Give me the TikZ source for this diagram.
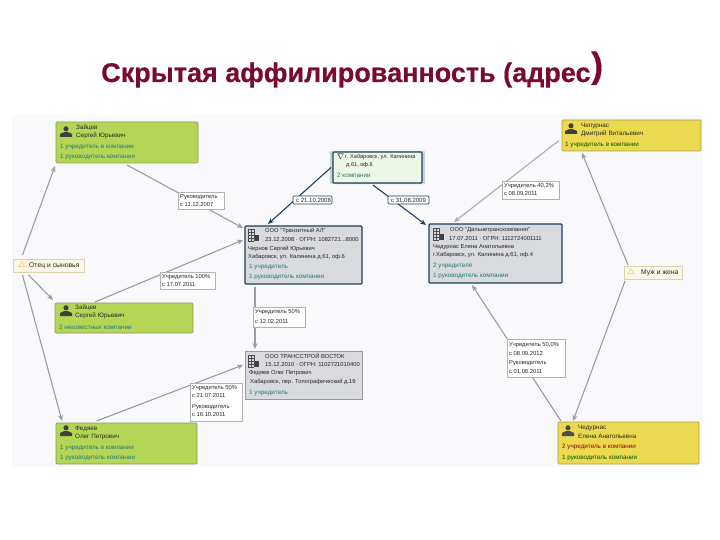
\documentclass[tikz,border=0pt]{standalone}
\usepackage{fontspec}
\setmainfont{Liberation Sans}
\newfontfamily\titlefont{Liberation Sans}[BoldFeatures={FakeBold=0.5}]
\usetikzlibrary{arrows.meta,shadows,calc}
\definecolor{panelbg}{HTML}{F9F9FB}
\definecolor{greenbox}{HTML}{B5D556}
\definecolor{greenedge}{HTML}{8A9A55}
\definecolor{yellowbox}{HTML}{EBD94F}
\definecolor{yellowedge}{HTML}{A89C50}
\definecolor{greybox}{HTML}{D9DADD}
\definecolor{darkblue}{HTML}{1F3F5F}
\definecolor{addrbox}{HTML}{EEF6E6}
\definecolor{linktxt}{HTML}{1F7A7A}
\definecolor{arrowgrey}{HTML}{9A9CA4}
\definecolor{relbg}{HTML}{FBF6E6}
\definecolor{reledge}{HTML}{DDD3B0}
\definecolor{titlecol}{HTML}{7A0A30}
\tikzset{
  boxbase/.style={rectangle,anchor=north west,inner sep=0pt,outer sep=0pt},
  greenn/.style={boxbase,draw=greenedge,fill=greenbox,rounded corners=1pt,line width=.7pt},
  yellown/.style={boxbase,draw=yellowedge,fill=yellowbox,rounded corners=1pt,line width=.7pt},
  compn/.style={boxbase,draw=darkblue,fill=greybox,rounded corners=1pt,line width=1.1pt},
  compplain/.style={boxbase,fill=greybox,draw=greybox!70!black,line width=.5pt},
  reln/.style={boxbase,draw=reledge,fill=relbg,line width=.6pt},
  edgelab/.style={boxbase,draw=gray!60,fill=white,line width=.5pt},
  datelab/.style={boxbase,draw=darkblue,fill=white,rounded corners=1pt,line width=.7pt},
  txt/.style={anchor=west,inner sep=0pt,font=\fontsize{6.3}{7}\selectfont,text=black!85},
  ctxt/.style={txt,font=\fontsize{5.8}{7}\selectfont},
  lnk/.style={txt,text=linktxt},
  conn/.style={draw=arrowgrey,line width=1.1pt,-{Stealth[length=6pt,width=5pt]}},
  connd/.style={draw=darkblue,line width=1.1pt,-{Stealth[length=6pt,width=5pt]}},
  titletxt/.style={anchor=base west,inner sep=0pt,font=\titlefont\bfseries\fontsize{27}{29}\selectfont,text=titlecol}
}
\newcommand{\personicon}[2]{%
  \fill[#2] (#1) ++(0,-3.2) circle (2.6pt);
  \fill[#2] (#1) ++(-6,5) -- ++(0,-3) -- ++(4,-1.8) -- ++(4,0) -- ++(4,1.8) -- ++(0,3) -- cycle;}
\newcommand{\bldicon}[1]{%
  \draw[black!70,line width=.9pt,step=3pt,shift={(#1)}] (0,0) grid (6,-12);
  \fill[black!75,shift={(#1)}] (7,0) rectangle (11,-6);}
\begin{document}
\begin{tikzpicture}[x=1pt,y=-1pt]
\useasboundingbox (0,0) rectangle (720,540);
\fill[panelbg] (12,115) rectangle (703,467);
\node[titletxt] (title) at (101,82) {Скрытая аффилированность (адрес};
\node[anchor=base west,inner sep=0pt,text=titlecol,font=\titlefont\bfseries\fontsize{36}{38}\selectfont] (paren) at (591,77.5) {)};

% nodes
\node[greenn,minimum width=142pt,minimum height=41pt] (g1) at (56,122) {};
\node[greenn,minimum width=138pt,minimum height=30pt] (g2) at (55,303) {};
\node[greenn,minimum width=141pt,minimum height=41pt] (g3) at (56,423) {};
\node[yellown,minimum width=139pt,minimum height=31pt] (y1) at (562,120) {};
\node[yellown,minimum width=141pt,minimum height=42pt] (y2) at (558,422) {};
\node[reln,minimum width=71pt,minimum height=13pt] (r1) at (13,259) {};
\node[reln,minimum width=58pt,minimum height=13pt] (r2) at (624,266) {};
\node[compn,minimum width=117pt,minimum height=58pt] (c1) at (245,226) {};
\node[compn,minimum width=133pt,minimum height=59pt] (c2) at (429,224) {};
\node[compplain,minimum width=117pt,minimum height=48pt] (c3) at (245,351) {};
\node[boxbase,draw=darkblue,fill=addrbox,rounded corners=1pt,line width=1.4pt,
      minimum width=89pt,minimum height=31pt,
      drop shadow={shadow xshift=0pt,shadow yshift=0pt,fill=darkblue!45,opacity=.5,shadow scale=1.07}] (addr) at (333,152) {};

% connectors
\draw[conn] ([yshift=-2pt]g1.south) -- ([xshift=-2pt,yshift=27pt]c1.west);
\draw[conn] ([xshift=-26pt,yshift=4pt]r1.north) -- ([xshift=-1pt,yshift=-3pt]g1.south west);
\draw[conn] ([xshift=-20pt,yshift=-3pt]r1.south) -- ([xshift=-2pt,yshift=3pt]g2.north west);
\draw[conn] ([xshift=-26pt,yshift=-3pt]r1.south) -- ([xshift=6pt,yshift=2pt]g3.north west);
\draw[conn] ([xshift=-29pt,yshift=1pt]g2.north) -- ([xshift=-2pt,yshift=15pt]c1.west);
\draw[conn] ([xshift=-30pt,yshift=2pt]g3.north) -- ([xshift=-2pt,yshift=10pt]c3.west);
\draw[conn] ([xshift=-48.5pt,yshift=-3pt]c1.south) -- ([xshift=-48.5pt,yshift=2pt]c3.north);
\draw[conn,draw=arrowgrey!85] ([xshift=-3pt,yshift=-5pt]y1.west) -- ([xshift=-41.5pt,yshift=2pt]c2.north);
\draw[conn] ([xshift=4pt,yshift=1pt]r2.north west) -- ([xshift=20pt,yshift=-2pt]y1.south west);
\draw[conn] ([xshift=1pt,yshift=-2pt]r2.south west) -- ([xshift=15pt,yshift=1pt]y2.north west);
\draw[conn] ([xshift=3pt,yshift=1pt]y2.north west) -- ([xshift=-23.5pt,yshift=-2pt]c2.south);
\draw[connd] ([xshift=-2pt]addr.west) -- ([xshift=-35.5pt,yshift=2pt]c1.north);
\draw[connd] ([xshift=-4.5pt,yshift=-2pt]addr.south) -- ([xshift=-3pt,yshift=-1pt]c2.north west);

% edge labels
\node[edgelab,minimum width=46pt,minimum height=17pt] (l1) at (178,192) {};
\node[edgelab,minimum width=55pt,minimum height=17pt] (l2) at (160,272) {};
\node[edgelab,minimum width=57pt,minimum height=18pt] (l3) at (502,181) {};
\node[edgelab,minimum width=52pt,minimum height=20pt] (l4) at (253,307) {};
\node[edgelab,minimum width=52pt,minimum height=38pt] (l5) at (190,383) {};
\node[edgelab,minimum width=58pt,minimum height=38pt] (l6) at (507,339) {};
\node[datelab,minimum width=39pt,minimum height=8pt] (d1) at (293,196) {};
\node[datelab,minimum width=41pt,minimum height=8pt] (d2) at (388,196) {};

\node[ctxt] (tl1a) at (180,197) {Руководитель};
\node[ctxt] (tl1b) at (180,205) {с 11.12.2007};
\node[ctxt] (tl2a) at (162,277) {Учредитель 100\%};
\node[ctxt] (tl2b) at (162,285) {с 17.07.2011};
\node[ctxt] (tl3a) at (504,186) {Учредитель 40,2\%};
\node[ctxt] (tl3b) at (504,194) {с 08.09.2011};
\node[ctxt] (tl4a) at (255,312) {Учредитель 50\%};
\node[ctxt] (tl4b) at (255,322) {с 12.02.2011};
\node[ctxt] (tl5a) at (192,388) {Учредитель 50\%};
\node[ctxt] (tl5b) at (192,396) {с 21.07.2011};
\node[ctxt] (tl5c) at (192,407) {Руководитель};
\node[ctxt] (tl5d) at (192,415) {с 16.10.2011};
\node[ctxt] (tl6a) at (509,345) {Учредитель 50,0\%};
\node[ctxt] (tl6b) at (509,354) {с 08.09.2012};
\node[ctxt] (tl6c) at (509,363) {Руководитель};
\node[ctxt] (tl6d) at (509,372) {с 01.08.2011};
\node[txt,font=\fontsize{6}{7}\selectfont] (td1) at (296,200) {с 21.10.2008};
\node[txt,font=\fontsize{6}{7}\selectfont] (td2) at (391,200) {с 31.08.2009};

% relations
\node[txt,text=orange!70!yellow,font=\fontsize{8}{8}\selectfont] (ri1) at (18,265.5) {$\triangle$};
\node[txt,font=\fontsize{6.8}{7}\selectfont] (rt1) at (29,266) {Отец и сыновья};
\node[txt,text=orange!70!yellow,font=\fontsize{8}{8}\selectfont] (ri2) at (627,272.5) {$\triangle$};
\node[txt,font=\fontsize{6.8}{7}\selectfont] (rt2) at (641,273) {Муж и жена};

% people
\personicon{66,132}{black!75}
\node[txt] (a1) at (76,128) {Зайцев};
\node[txt] (a2) at (76,136) {Сергей Юрьевич};
\node[lnk] (a3) at (60,147) {1 учредитель в компании};
\node[lnk] (a4) at (60,157) {1 руководитель компании};

\personicon{66,311}{black!75}
\node[txt] (b1) at (75,308) {Зайцев};
\node[txt] (b2) at (75,316) {Сергей Юрьевич};
\node[lnk] (b3) at (59,327) {2 неизвестных компании};

\personicon{66,431}{black!75}
\node[txt] (e1) at (75,429) {Федяев};
\node[txt] (e2) at (75,437) {Олег Петрович};
\node[lnk] (e3) at (60,448) {1 учредитель в компании};
\node[lnk] (e4) at (60,458) {1 руководитель компании};

\personicon{571,129}{black!75}
\node[txt] (f1) at (581,126) {Чепурнас};
\node[txt] (f2) at (581,134) {Дмитрий Витальевич};
\node[lnk,text=green!35!black] (f3) at (565,145) {1 учредитель в компании};

\personicon{568,431}{black!70}
\node[txt] (h1) at (578,428) {Чедурнас};
\node[txt] (h2) at (578,436) {Елена Анатольевна};
\node[txt,text=red!60!black] (h3) at (562,447) {2 учредитель в компании};
\node[lnk,text=green!35!black] (h4) at (562,458) {1 руководитель компании};

% companies
\bldicon{248,241}
\node[ctxt] (k1) at (265,231) {ООО "Транзитный АЛ"};
\node[ctxt] (k2) at (265,240) {23.12.2008 · ОГРН: 1082721...8000};
\node[ctxt] (k3) at (248,249) {Чернов Сергей Юрьевич};
\node[ctxt] (k4) at (248,257) {Хабаровск, ул. Калинина д.61, оф.6};
\node[lnk] (k5) at (249,267) {1 учредитель};
\node[lnk] (k6) at (249,277) {1 руководитель компании};

\bldicon{433,240}
\node[ctxt] (m1) at (450,230) {ООО "Дальнетранскомпания"};
\node[ctxt] (m2) at (449,239) {17.07.2011 · ОГРН: 1112724001111};
\node[ctxt] (m3) at (433,247) {Чедурнас Елена Анатольевна};
\node[ctxt] (m4) at (433,255) {г.Хабаровск, ул. Калинина д.61, оф.4};
\node[lnk] (m5) at (433,266) {2 учредителя};
\node[lnk] (m6) at (433,276) {1 руководитель компании};

\bldicon{248,367}
\node[ctxt] (n1) at (265,356) {ООО ТРАНССТРОЙ ВОСТОК};
\node[ctxt] (n2) at (265,365) {15.12.2010 · ОГРН: 1102721010400};
\node[ctxt] (n3) at (249,373) {Федяев Олег Петрович};
\node[ctxt] (n4) at (250,382) {Хабаровск, пер. Топографический д.19};
\node[lnk] (n5) at (249,393) {1 учредитель};

% address
\node[txt,font=\fontsize{8}{8}\selectfont] (p0) at (337,157) {$\nabla$};
\node[ctxt,font=\fontsize{5.6}{7}\selectfont] (p1) at (345,157) {г. Хабаровск, ул. Калинина};
\node[ctxt,font=\fontsize{5.6}{7}\selectfont] (p2) at (346,165) {д.61, оф.6};
\node[lnk] (p3) at (337,175.5) {2 компании};
\end{tikzpicture}
\end{document}
